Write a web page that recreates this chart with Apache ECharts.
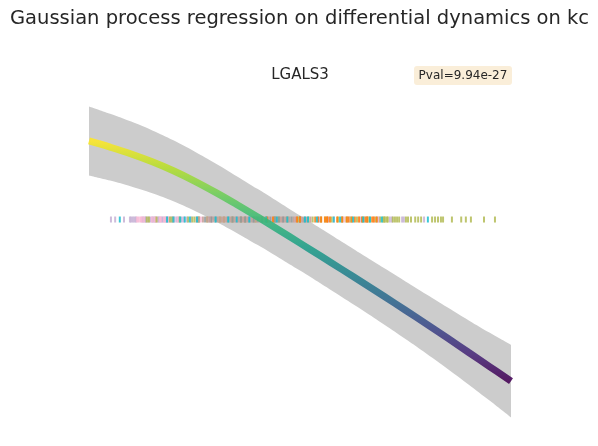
<!DOCTYPE html>
<html><head><meta charset="utf-8">
<script src="https://cdn.jsdelivr.net/npm/echarts@6/dist/echarts.min.js"></script>
<style>html,body{margin:0;padding:0;background:#fff}#c{width:598px;height:446px}</style>
</head><body><div id="c"></div>
<script>
// ---- data ----
const titleText = 'Gaussian process regression on differential dynamics on kc';
const geneName = 'LGALS3';
const pvalText = 'Pval=9.94e-27';

const pseudotime = [0,0.05,0.1,0.15,0.2,0.25,0.3,0.35,0.4,0.45,0.5,0.55,0.6,0.65,0.7,0.75,0.8,0.85,0.9,0.95,1.0];
const meanExpr   = [2.164,2.051,1.927,1.785,1.622,1.435,1.229,1.009,0.780,0.545,0.307,0.067,-0.175,-0.418,-0.664,-0.913,-1.165,-1.422,-1.682,-1.942,-2.202];
const ciHalf     = [0.627,0.607,0.589,0.571,0.555,0.540,0.527,0.516,0.509,0.504,0.500,0.500,0.502,0.505,0.513,0.524,0.538,0.558,0.584,0.618,0.660];

const rugLilac = [0.052,0.062,0.083,0.097,0.100,0.104,0.108,0.111,0.128,0.133,0.135,0.140,0.145,0.150,0.153,0.157,0.163,0.166,0.172,0.175,0.182,0.185,0.187,0.195,0.202,0.207,0.212,0.220,0.225,0.232,0.242,0.260,0.285,0.320,0.350,0.390,0.435,0.470,0.500,0.545,0.567,0.600,0.615,0.645,0.660,0.685,0.713,0.718,0.742,0.746,0.794];
const rugPink  = [0.114,0.118,0.123,0.125,0.130,0.149,0.155,0.159,0.168,0.170,0.178,0.180,0.190,0.200,0.210,0.265,0.290,0.320,0.350,0.370,0.400,0.430,0.460,0.490,0.520,0.550,0.580,0.605,0.620,0.640,0.655,0.675,0.688];
const rugCyan  = [0.073,0.185,0.200,0.216,0.227,0.239,0.256,0.300,0.330,0.350,0.380,0.420,0.445,0.470,0.512,0.519,0.540,0.580,0.595,0.626,0.650,0.666,0.694,0.803];
const rugOlive = [0.137,0.142,0.160,0.192,0.197,0.215,0.235,0.245,0.250,0.260,0.280,0.310,0.320,0.340,0.360,0.370,0.395,0.410,0.420,0.440,0.450,0.470,0.495,0.500,0.520,0.530,0.550,0.560,0.575,0.590,0.600,0.610,0.620,0.635,0.650,0.660,0.665,0.680,0.690,0.697,0.700,0.701,0.706,0.708,0.720,0.725,0.730,0.735,0.751,0.756,0.763,0.773,0.780,0.787,0.813,0.820,0.827,0.834,0.839,0.860,0.882,0.893,0.905,0.936,0.962];
const rugOrange = [0.422,0.436,0.493,0.500,0.536,0.543,0.550,0.559,0.564,0.565,0.571,0.588,0.600,0.611,0.615,0.623,0.630,0.640,0.647,0.655,0.659,0.671,0.675,0.682];
const rugBrown = [0.255,0.260,0.270,0.280,0.285,0.290,0.295,0.305,0.310,0.315,0.320,0.325,0.335,0.340,0.345,0.350,0.355,0.360,0.365,0.370,0.375,0.385,0.390,0.395,0.405,0.410,0.415,0.420,0.425,0.440,0.445,0.455,0.460,0.465,0.470,0.475,0.485,0.490,0.500,0.505,0.515,0.525];
const rugGray  = [0.275,0.290,0.300,0.330,0.340,0.360,0.370,0.380,0.390,0.400,0.410,0.430,0.440,0.450,0.460,0.480,0.500,0.510];

const rugGroups = [
  {name:'lilac', color:'#c5b0d5', data:rugLilac},
  {name:'pink', color:'#f7b6d2', data:rugPink},
  {name:'olive', color:'#b3bb55', data:rugOlive},
  {name:'brown', color:'#c49c94', data:rugBrown},
  {name:'gray', color:'#8f9a9a', data:rugGray},
  {name:'orange', color:'#ff7f0e', data:rugOrange},
  {name:'cyan', color:'#17becf', data:rugCyan}
];
const rugY = 0.736;
const viridis = ['#440154','#482878','#3e4989','#31688e','#26828e','#1f9e89','#35b779','#6ece58','#b5de2b','#fde725'];

// ---- build ----
const upperPts = pseudotime.map((t,i)=>[t, +(meanExpr[i]+ciHalf[i]).toFixed(3)]);
const lowerPts = pseudotime.map((t,i)=>[t, +(meanExpr[i]-ciHalf[i]).toFixed(3)]);
const mean = pseudotime.map((t,i)=>[t, meanExpr[i]]);

const series = [
  // band: upper curve filled grey down to the axis floor, then lower curve filled white below it
  {type:'line', name:'upper', data:upperPts, smooth:0.4, symbol:'none', silent:true, z:1,
   lineStyle:{width:0, opacity:0}, areaStyle:{color:'#cccccc', opacity:1, origin:'start'}},
  {type:'line', name:'lower', data:lowerPts, smooth:0.4, symbol:'none', silent:true, z:2,
   lineStyle:{width:0, opacity:0}, areaStyle:{color:'#ffffff', opacity:1, origin:'start'}}
];
rugGroups.forEach(g=>{
  series.push({type:'scatter', name:g.name, symbol:'rect', symbolSize:[2,6],
    data:g.data.map(t=>[t, rugY]), itemStyle:{color:g.color, opacity:0.85}, z:3, silent:true});
});
series.push({type:'line', name:'mean', data:mean, smooth:0.4, symbol:'none', clip:false,
  lineStyle:{width:7, opacity:0.88, cap:'butt'}, z:5});

const chart = echarts.init(document.getElementById('c'), null, {renderer:'canvas'});
chart.setOption({
  animation:false,
  backgroundColor:'#ffffff',
  title:{text:titleText, left:10, top:9, padding:0,
    textStyle:{fontFamily:'DejaVu Sans', fontSize:19.5, fontWeight:'normal', color:'#262626'}},
  grid:{left:89, right:87, top:95, bottom:21},
  xAxis:{type:'value', min:0, max:1, show:false},
  yAxis:{type:'value', min:-3, max:3, show:false},
  visualMap:{show:false, type:'continuous', seriesIndex:series.length-1, dimension:1,
    min:meanExpr[meanExpr.length-1], max:meanExpr[0], inRange:{color:viridis}},
  graphic:[
    {type:'text', x:300, y:75, style:{text:geneName, textAlign:'center', textVerticalAlign:'middle',
      font:'15px "DejaVu Sans"', fill:'#262626'}},
    {type:'rect', shape:{x:414, y:66, width:98, height:19, r:3}, style:{fill:'#faeed9'}},
    {type:'text', x:463, y:75.5, style:{text:pvalText, textAlign:'center', textVerticalAlign:'middle',
      font:'12px "DejaVu Sans"', fill:'#262626'}}
  ],
  series:series
});
</script></body></html>
